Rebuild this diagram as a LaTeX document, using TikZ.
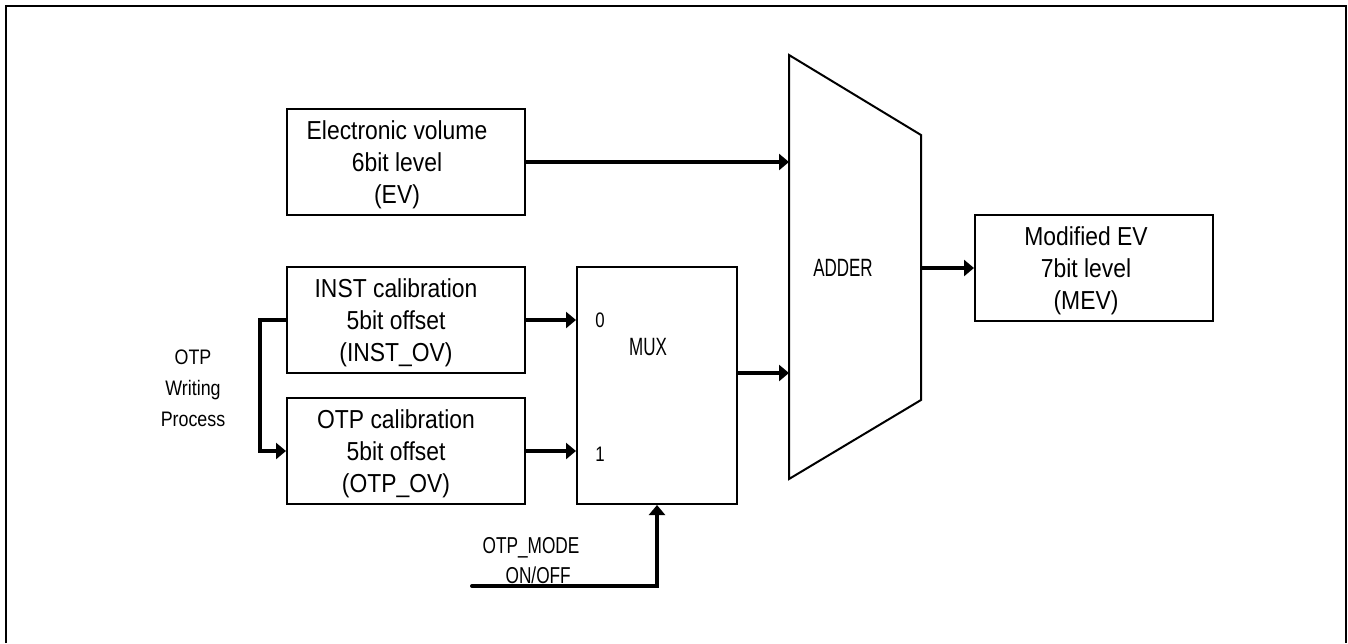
\documentclass[tikz,border=0pt]{standalone}
\usepackage{fontspec}
\setmainfont{Liberation Sans}[FakeStretch=0.88]
\newfontfamily\fWP{Liberation Sans}[FakeStretch=0.85]
\newfontfamily\fMode{Liberation Sans}[FakeStretch=0.75]
\newfontfamily\fNarrow{Liberation Sans}[FakeStretch=0.68]
\newfontfamily\fDigit{Liberation Sans}[FakeStretch=0.8]
\usetikzlibrary{arrows.meta,calc}
\begin{document}
\begin{tikzpicture}[x=1pt,y=-1pt,
  blk/.style={draw, line width=2pt, minimum width=238pt, minimum height=106pt, inner sep=0pt},
  blktext/.style={font=\fontsize{26}{32}\selectfont, align=center, inner sep=0pt},
  sig/.style={line width=4pt, -{Triangle[length=10pt,width=16pt]}},
  shape2/.style={draw, line width=2pt},
  narrowlbl/.style={font=\fNarrow\fontsize{25}{30}\selectfont, inner sep=0pt},
  digitlbl/.style={font=\fDigit\fontsize{21}{25}\selectfont, inner sep=0pt},
]
\useasboundingbox (0,0) rectangle (1348,643);
\draw[line width=2.5pt] (6,643) -- (6,6) -- (1346,6) -- (1346,643);

% blocks
\node[blk, label={[blktext, xshift=-9pt, yshift=-3pt]center:Electronic volume\\6bit level\\(EV)}] (ev) at (406,162) {};
\node[blk, label={[blktext, xshift=-10pt, yshift=-3pt]center:INST calibration\\5bit offset\\(INST\_OV)}] (inst) at (406,320) {};
\node[blk, label={[blktext, xshift=-10pt, yshift=-3pt]center:OTP calibration\\5bit offset\\(OTP\_OV)}] (otp) at (406,451) {};
\node[blk, label={[blktext, xshift=-8pt, yshift=-3pt]center:Modified EV\\7bit level\\(MEV)}] (mev) at (1094,268) {};

% mux
\node[shape2, minimum width=160pt, minimum height=237pt, inner sep=0pt] (mux) at (657,385.5) {};
\node[narrowlbl] (muxlbl) at (648,347) {MUX};
\node[digitlbl] (in0) at (600,320) {0};
\node[digitlbl] (in1) at (600,454) {1};

% adder
\coordinate (a1) at (789,55);
\coordinate (a2) at (921,135);
\coordinate (a3) at (921,400);
\coordinate (a4) at (789,479);
\draw[shape2, line join=miter] (a1) -- (a2) -- (a3) -- (a4) -- cycle;
\node[narrowlbl] (adder) at (843,268) {ADDER};

% labels
\node[font=\fWP\fontsize{21}{31}\selectfont, align=center, inner sep=0pt] (wp) at (193,388) {OTP\\Writing\\Process};
\node[font=\fMode\fontsize{23}{30}\selectfont, align=left, inner sep=0pt] (mode) at (531,561) {OTP\_MODE\\\hspace*{23pt}ON/OFF};

% connectors
\draw[sig] (ev.east) -- (ev.east -| a1);
\draw[sig] ([yshift=12.5pt]mux.east) -- ([yshift=12.5pt]mux.east -| a1);
\draw[sig] (mev.west -| a2) -- (mev.west);
\draw[sig] (inst.east) -- (inst.east -| mux.west);
\draw[sig] (otp.east) -- (otp.east -| mux.west);
\draw[sig] (inst.west) -- ++(-26,0) |- (otp.west);
\coordinate (modein) at (472,586);
\draw[sig, line cap=round] (modein) -| (mux.south);
\end{tikzpicture}
\end{document}
